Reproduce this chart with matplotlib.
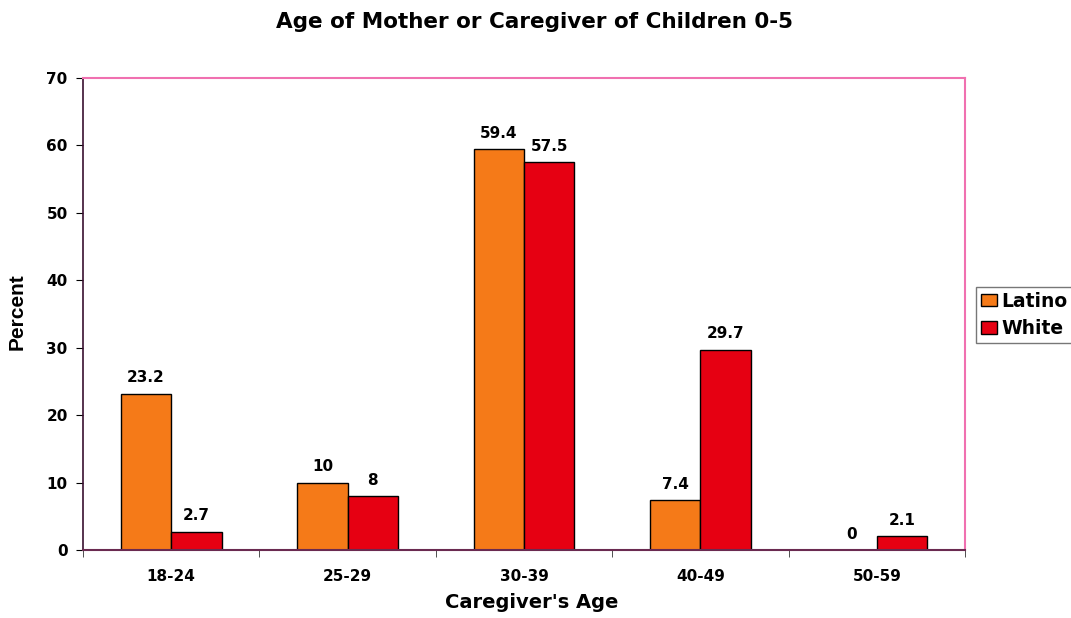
import matplotlib
matplotlib.use("Agg")
import matplotlib.pyplot as plt
import numpy as np

categories = ["18-24", "25-29", "30-39", "40-49", "50-59"]
latino = [23.2, 10, 59.4, 7.4, 0]
white = [2.7, 8, 57.5, 29.7, 2.1]
latino_labels = ["23.2", "10", "59.4", "7.4", "0"]
white_labels = ["2.7", "8", "57.5", "29.7", "2.1"]

plt.rcParams['font.family'] = ['DejaVu Sans']
plt.rcParams['font.weight'] = 'bold'

fig = plt.figure(figsize=(10.71, 6.18), dpi=100)
W, H = 1071, 618
ax = fig.add_axes([83 / W, 1 - 550 / H, (965 - 83) / W, (550 - 78) / H])

x = np.arange(len(categories))
bw = 1 / 3.5
orange = "#F57A18"
red = "#E60012"
b1 = ax.bar(x - bw / 2, latino, bw, color=orange, edgecolor="black", linewidth=1, label="Latino", zorder=3)
b2 = ax.bar(x + bw / 2, white, bw, color=red, edgecolor="black", linewidth=1, label="White", zorder=3)

for xi, v, s in zip(x - bw / 2, latino, latino_labels):
    ax.annotate(s, (xi, v), xytext=(0, 6), textcoords="offset points", ha="center", va="bottom",
                fontsize=11, fontweight="bold")
for xi, v, s in zip(x + bw / 2, white, white_labels):
    ax.annotate(s, (xi, v), xytext=(0, 6), textcoords="offset points", ha="center", va="bottom",
                fontsize=11, fontweight="bold")

ax.set_xlim(-0.5, len(categories) - 0.5)
ax.set_ylim(0, 70)
ax.set_yticks(np.arange(0, 71, 10))
ax.set_xticks(x)
ax.set_xticklabels(categories, fontsize=11, fontweight="bold")
ax.set_xticks(np.arange(-0.5, len(categories), 1), minor=True)
ax.tick_params(axis="x", which="major", length=0, pad=14)
ax.tick_params(axis="x", which="minor", length=5, direction="out", color="#333333")
ax.tick_params(axis="y", length=5, direction="out", labelsize=11, pad=6)
for lbl in ax.get_yticklabels():
    lbl.set_fontweight("bold")

ax.spines["left"].set_color("#3a1030")
ax.spines["bottom"].set_color("#6a2a50")
ax.spines["bottom"].set_linewidth(1.5)
ax.spines["top"].set_color("#F070B0")
ax.spines["right"].set_color("#F070B0")
for s in ax.spines.values():
    s.set_zorder(4)
ax.spines["left"].set_linewidth(1.2)
ax.spines["top"].set_linewidth(1.5)
ax.spines["right"].set_linewidth(1.5)

fig.text(532 / W, 1 - 603 / H, "Caregiver's Age", ha="center", va="center",
         fontsize=14, fontweight="bold")
fig.text(17 / W, 1 - 312 / H, "Percent", ha="center", va="center", rotation=90,
         fontsize=15, fontweight="bold", family=["Liberation Sans", "DejaVu Sans"])

fig.text(534 / W, 1 - 22 / H, "Age of Mother or Caregiver of Children 0-5", ha="center", va="center",
         fontsize=15.5, fontweight="bold")

leg = fig.legend(handles=[b1, b2], labels=["Latino", "White"], loc="upper left",
                 bbox_to_anchor=(976 / W, 1 - 287 / H), frameon=True, fancybox=False,
                 edgecolor="#555555", fontsize=13.5, handlelength=0.85, handleheight=0.64,
                 handletextpad=0.25, labelspacing=0.45, borderpad=0.25, borderaxespad=0)
leg.get_frame().set_linewidth(1)
for t in leg.get_texts():
    t.set_fontweight("bold")

fig.savefig("out.png", dpi=100)
